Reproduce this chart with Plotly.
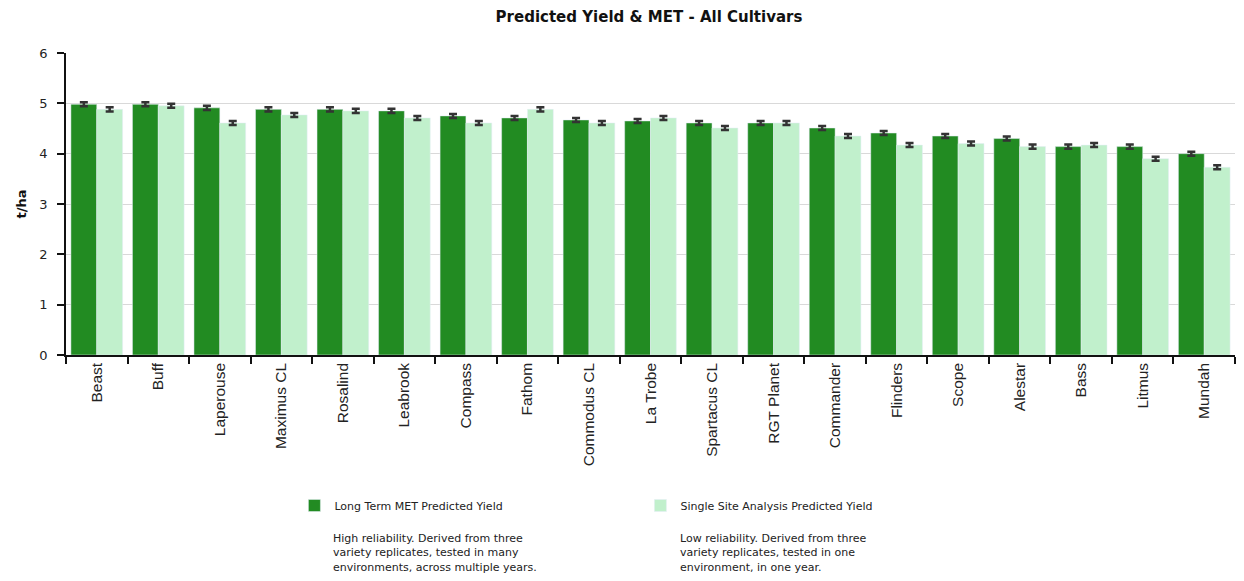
import plotly.graph_objects as go

cultivars = ["Beast", "Buff", "Laperouse", "Maximus CL", "Rosalind", "Leabrook", "Compass",
             "Fathom", "Commodus CL", "La Trobe", "Spartacus CL", "RGT Planet", "Commander",
             "Flinders", "Scope", "Alestar", "Bass", "Litmus", "Mundah"]
met_yield = [4.98, 4.98, 4.91, 4.88, 4.88, 4.85, 4.75, 4.71, 4.67, 4.65, 4.61, 4.61, 4.51,
             4.41, 4.35, 4.30, 4.14, 4.14, 4.00]
ssa_yield = [4.88, 4.95, 4.61, 4.77, 4.85, 4.71, 4.61, 4.88, 4.61, 4.71, 4.51, 4.61, 4.35,
             4.17, 4.20, 4.14, 4.17, 3.90, 3.73]
met_err = [0.04] * 19
ssa_err = [0.04] * 19
y_ticks = [0, 1, 2, 3, 4, 5, 6]

MET_NAME = "Long Term MET Predicted Yield"
SSA_NAME = "Single Site Analysis Predicted Yield"
MET_DESC = "High reliability. Derived from three<br>variety replicates, tested in many<br>environments, across multiple years."
SSA_DESC = "Low reliability. Derived from three<br>variety replicates, tested in one<br>environment, in one year."

# page body has an 8px margin, so figure coords = screen coords - 8
L, T, PW, PH = 55, 45, 1172, 302
BOTTOM = T + PH


def px_x(sx):
    return (sx - 8 - L) / PW


def px_y(sy):
    return -((sy - 8) - BOTTOM) / PH


err_style = dict(type="data", visible=True, color="#333333", thickness=2.5, width=4)

fig = go.Figure()
fig.add_trace(go.Bar(x=cultivars, y=met_yield, name=MET_NAME, marker_color="#228B22",
                     error_y=dict(array=met_err, **err_style)))
fig.add_trace(go.Bar(x=cultivars, y=ssa_yield, name=SSA_NAME, marker_color="#C1F0CC",
                     error_y=dict(array=ssa_err, **err_style)))

desc_font = dict(family="DejaVu Sans, Verdana", size=11, color="#222222")

fig.update_layout(
    width=1244, height=581,
    margin=dict(l=L, r=1244 - L - PW, t=T, b=581 - BOTTOM),
    paper_bgcolor="white", plot_bgcolor="white",
    barmode="group", bargap=0.16, bargroupgap=0,
    title=dict(text="<b>Predicted Yield & MET - All Cultivars</b>", xref="container",
               x=(649 - 8) / 1244, xanchor="center",
               y=1 - 9 / 581, yanchor="middle",
               font=dict(family="DejaVu Sans, Verdana", size=15, color="#111111")),
    font=dict(family="DejaVu Sans, Verdana", color="#222222"),
    showlegend=True,
    legend=dict(orientation="h", x=px_x(292), xanchor="left", y=px_y(491), yanchor="top",
                entrywidth=301, entrywidthmode="pixels",
                font=desc_font, traceorder="normal"),
    annotations=[
        dict(text=MET_DESC, xref="paper", yref="paper", x=px_x(329), y=px_y(530),
             xanchor="left", yanchor="top", showarrow=False, align="left", font=desc_font),
        dict(text=SSA_DESC, xref="paper", yref="paper", x=px_x(677), y=px_y(530),
             xanchor="left", yanchor="top", showarrow=False, align="left", font=desc_font),
    ],
)

fig.update_xaxes(
    type="category", tickangle=-90, tickson="boundaries", ticks="outside", ticklen=7,
    tickwidth=1.5, tickcolor="#111111", showline=True, linecolor="#111111", linewidth=1.5,
    tickfont=dict(family="Liberation Sans, Arial", size=15.5, color="#222222"), showgrid=False,
)
fig.update_yaxes(
    range=[0, 6], tickvals=y_ticks, ticks="outside", ticklen=7, tickwidth=1.5, tickcolor="#111111",
    showline=True, linecolor="#111111", linewidth=1.5, showgrid=True, gridcolor="#D9D9D9",
    gridwidth=1, zeroline=False, ticklabelstandoff=7,
    tickfont=dict(family="DejaVu Sans, Tahoma", size=13, color="#222222"),
    title=dict(text="<b>t/ha</b>", font=dict(family="DejaVu Sans, Verdana", size=13, color="#111111"),
               standoff=10),
)

fig.write_html("out.html")
